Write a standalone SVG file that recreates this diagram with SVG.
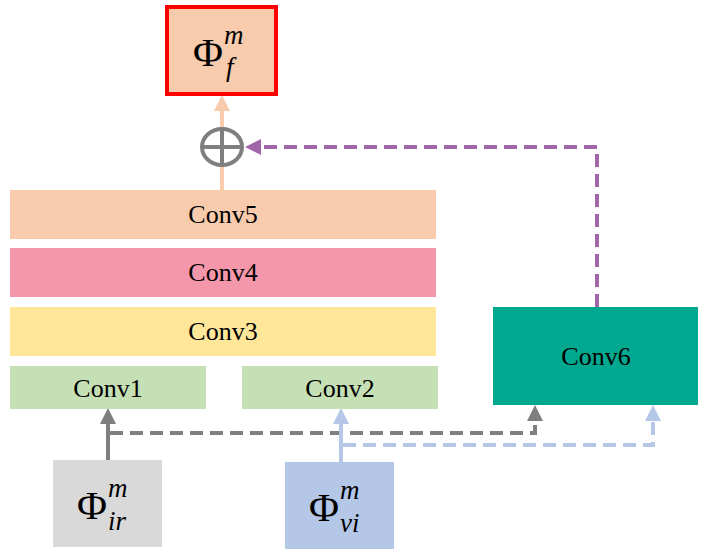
<svg xmlns="http://www.w3.org/2000/svg" width="705" height="555" viewBox="0 0 705 555">
<style>
.lbl{font-family:"Liberation Serif","Times New Roman",serif;font-size:26px;fill:#000;text-anchor:middle}
.phi{font-family:"Liberation Serif","Times New Roman",serif;font-size:41px;fill:#000}
.sup{font-family:"Liberation Serif","Times New Roman",serif;font-size:27px;font-style:italic;fill:#000}
.c{fill:none;stroke-width:4}
.dash{stroke-dasharray:13 7}
</style>
<defs>
<marker id="aG" markerWidth="4" markerHeight="4" refX="2" refY="2" orient="auto" markerUnits="strokeWidth"><path d="M0,0 L4,2 L0,4 z" fill="#7F7F7F"/></marker>
<marker id="aB" markerWidth="4" markerHeight="4" refX="2" refY="2" orient="auto" markerUnits="strokeWidth"><path d="M0,0 L4,2 L0,4 z" fill="#B4C7E7"/></marker>
<marker id="aO" markerWidth="4" markerHeight="4" refX="2" refY="2" orient="auto" markerUnits="strokeWidth"><path d="M0,0 L4,2 L0,4 z" fill="#F8CBAD"/></marker>
<marker id="aP" markerWidth="4" markerHeight="4" refX="2" refY="2" orient="auto" markerUnits="strokeWidth"><path d="M0,0 L4,2 L0,4 z" fill="#A066A8"/></marker>
</defs>
<g id="connectors">
<line class="c" x1="222" y1="190" x2="222" y2="103" stroke="#F8CBAD" marker-end="url(#aO)"/>
<polyline class="c dash" points="597,307 597,147 253,147" stroke="#A066A8" marker-end="url(#aP)"/>
<line class="c" x1="108" y1="460" x2="108" y2="416" stroke="#7F7F7F" marker-end="url(#aG)"/>
<polyline class="c dash" points="110,433 535,433 535,413" stroke="#7F7F7F" marker-end="url(#aG)"/>
<line class="c" x1="341" y1="462" x2="341" y2="416" stroke="#B4C7E7" marker-end="url(#aB)"/>
<polyline class="c dash" points="343,445 653,445 653,413" stroke="#B4C7E7" marker-end="url(#aB)"/>
</g>
<g id="oplus">
<ellipse cx="222" cy="147" rx="20" ry="18" fill="#fff" stroke="#7F7F7F" stroke-width="4"/>
<line x1="202" y1="147" x2="242" y2="147" stroke="#7F7F7F" stroke-width="4"/>
<line x1="222" y1="129" x2="222" y2="165" stroke="#7F7F7F" stroke-width="4"/>
</g>
<g id="out">
<rect x="167" y="7" width="109" height="87" fill="#F8CBAD" stroke="#FF0000" stroke-width="4"/>
<text class="phi" x="193" y="66">Φ</text>
<text class="sup" x="224" y="44">m</text>
<text class="sup" x="226" y="76">f</text>
</g>
<g id="conv5"><rect x="10" y="190" width="426" height="49" fill="#F8CBAD"/><text class="lbl" x="223" y="223">Conv5</text></g>
<g id="conv4"><rect x="10" y="248" width="426" height="49" fill="#F497AA"/><text class="lbl" x="223" y="281">Conv4</text></g>
<g id="conv3"><rect x="10" y="307" width="426" height="49" fill="#FFE699"/><text class="lbl" x="223" y="340">Conv3</text></g>
<g id="conv1"><rect x="10" y="366" width="196" height="43" fill="#C5E0B4"/><text class="lbl" x="108" y="397">Conv1</text></g>
<g id="conv2"><rect x="242" y="366" width="196" height="43" fill="#C5E0B4"/><text class="lbl" x="340" y="397">Conv2</text></g>
<g id="conv6"><rect x="493" y="307" width="205" height="98" fill="#00A88F"/><text class="lbl" x="596" y="365">Conv6</text></g>
<g id="phi_ir">
<rect x="53" y="460" width="109" height="87" fill="#D9D9D9"/>
<text class="phi" x="77" y="519">Φ</text>
<text class="sup" x="108" y="497">m</text>
<text class="sup" x="108" y="530">ir</text>
</g>
<g id="phi_vi">
<rect x="285" y="462" width="109" height="87" fill="#B4C7E7"/>
<text class="phi" x="309" y="521">Φ</text>
<text class="sup" x="340" y="499">m</text>
<text class="sup" x="340" y="532">vi</text>
</g>
</svg>
